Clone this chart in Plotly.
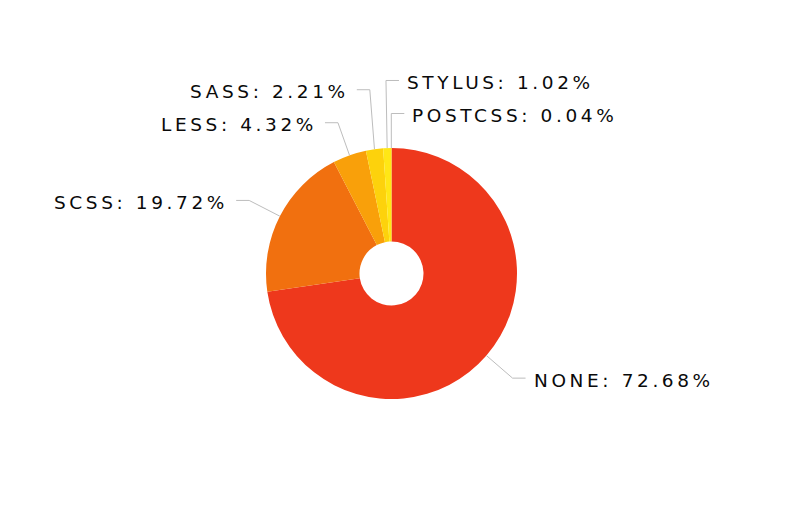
import math
import plotly.graph_objects as go

# data
labels = ["NONE", "SCSS", "LESS", "SASS", "STYLUS", "POSTCSS"]
shares = [72.68, 19.72, 4.32, 2.21, 1.02, 0.04]
colors = ["#EE381C", "#F1700F", "#F9A00A", "#FDD20C", "#FFE716", "#FFF000"]

W, H = 795, 520
PAGE = 8           # default body margin of the html page
CX, CY, R = 391.5, 273.5, 125.5   # pie centre / radius as seen on screen, px
HOLE = 0.255
R_ELBOW = 160      # radius where leader line bends
ARM = 13           # horizontal leg of leader line
GAP = 6            # space between line and text
SPACING = 33       # min vertical distance between stacked labels
TEXT_DROP = 2      # text sits a touch below its line


def px(x, y):
  # screen px -> paper coords
  return (x - PAGE) / W, 1 - (y - PAGE) / H


x0, y1 = px(CX - R, CY - R)
x1, y0 = px(CX + R, CY + R)

fig = go.Figure(go.Pie(
  labels=labels, values=shares, sort=False, direction="clockwise", rotation=0,
  hole=HOLE, marker=dict(colors=colors, line=dict(width=0)),
  textinfo="none", hoverinfo="label+percent", showlegend=False,
  domain=dict(x=[x0, x1], y=[y0, y1]),
))

# leader lines and labels, placed from the slice mid angles
total = sum(shares)
acc = 0
items = []
for lab, v in zip(labels, shares):
  mid = (acc + v / 2) / total * 360
  acc += v
  t = math.radians(mid)
  unwrapped = mid if mid <= 180 else mid - 360
  side = "right" if math.sin(t) >= -0.05 else "left"
  items.append(dict(
    label=lab, value=v, side=side, ang=unwrapped,
    ax=CX + R * math.sin(t), ay=CY - R * math.cos(t),
    ex=CX + R_ELBOW * math.sin(t), ey=CY - R_ELBOW * math.cos(t),
  ))

for side in ("left", "right"):
  grp = [it for it in items if it["side"] == side]
  grp.sort(key=lambda it: it["ang"], reverse=(side == "right"))
  prev = None
  for it in grp:
    if prev is not None and it["ey"] > prev - SPACING:
      it["ey"] = prev - SPACING
    prev = it["ey"]

shapes = []
annotations = []
for it in items:
  sgn = 1 if it["side"] == "right" else -1
  hx = it["ex"] + sgn * ARM
  p = [px(it["ax"], it["ay"]), px(it["ex"], it["ey"]), px(hx, it["ey"])]
  path = "M %f,%f L %f,%f L %f,%f" % (p[0] + p[1] + p[2])
  shapes.append(dict(type="path", xref="paper", yref="paper", path=path,
                     line=dict(color="#BDBDBD", width=1)))
  tx, ty = px(hx + sgn * GAP, it["ey"] + TEXT_DROP)
  annotations.append(dict(
    x=tx, y=ty, xref="paper", yref="paper", showarrow=False,
    xanchor="left" if sgn > 0 else "right", yanchor="middle",
    text='<span style="letter-spacing:3.6px">%s: %.2f%%</span>' % (it["label"], it["value"]),
    font=dict(family="DejaVu Sans, Verdana, sans-serif", size=18.5, color="#0A0A0A"),
  ))

fig.update_layout(
  width=W, height=H, margin=dict(l=0, r=0, t=0, b=0),
  paper_bgcolor="white", plot_bgcolor="white",
  shapes=shapes, annotations=annotations,
)

fig.write_html("out.html")
